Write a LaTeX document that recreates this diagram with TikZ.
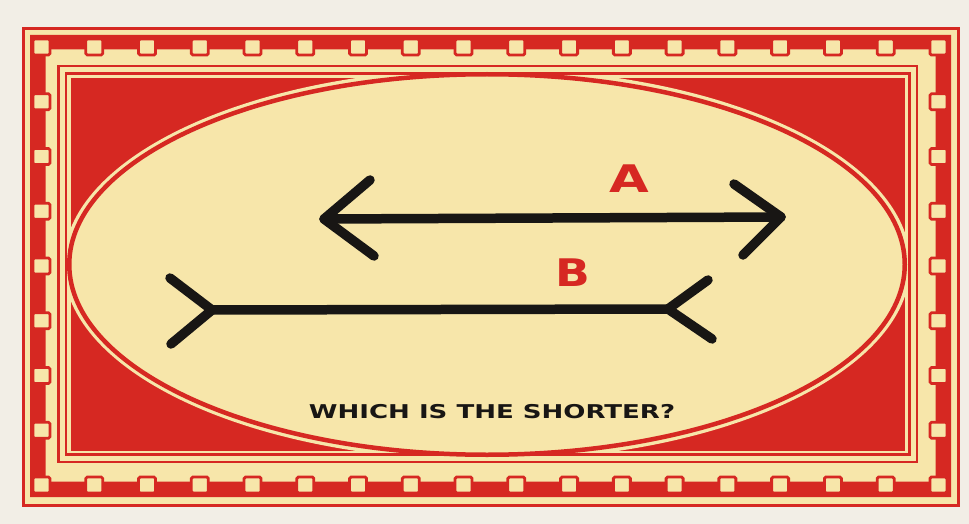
\documentclass[tikz,border=0pt]{standalone}
\usepackage{xcolor}
\usepackage{fontspec}
\newfontfamily\cardfont{DejaVu Sans}
\usetikzlibrary{calc}
\definecolor{paper}{RGB}{242,238,230}
\definecolor{cardred}{RGB}{214,40,34}
\definecolor{cardcream}{RGB}{247,230,170}
\definecolor{ink}{RGB}{24,22,20}

\begin{document}
\begin{tikzpicture}[x=1pt, y=-1pt,
  stud/.style={fill=cardcream, draw=cardred, line width=2.8pt, rounded corners=1.5pt},
  frameline/.style={draw=cardred, line width=2.8pt},
  bar/.style={draw=ink, line width=9.5pt, line cap=round, line join=round},
  every node/.style={inner sep=0pt, font=\cardfont\bfseries}]
  \useasboundingbox[fill=paper] (0,0) rectangle (969,524);
  \path[fill=cardcream, draw=cardred, line width=3pt] (23.5,28.5) rectangle (958.5,505.5);
  \fill[cardred, even odd rule] (30,35) rectangle (951,497) (45.5,49.5) rectangle (935.5,481.5);
  \foreach \i in {0,...,17} {
    \path[stud] ({33+52.76*\i},39) rectangle ++(17,16);
    \path[stud] ({33+52.76*\i},477) rectangle ++(17,16);
  }
  \foreach \j in {1,...,7} {
    \path[stud] (33,{39+54.75*\j}) rectangle ++(17,16);
    \path[stud] (930,{39+54.75*\j}) rectangle ++(17,16);
  }
  \path[frameline] (58.5,66) rectangle (917,462);
  \path[frameline] (66,73.5) rectangle (909.5,454.5);
  \fill[cardred] (70.5,78.5) rectangle (905,450.5);
  \begin{scope}
    \clip (70.5,78.5) rectangle (905,450.5);
    \fill[cardcream] (487,264.5) ellipse [x radius=423.5, y radius=196];
  \end{scope}
  \path[fill=cardcream, draw=cardred, line width=4.5pt] (487,264.5) ellipse [x radius=417.75, y radius=190.25];

  \coordinate (Atail) at (324,219);
  \coordinate (Ahead) at (781,217);
  \coordinate (Bleft) at (212,310);
  \coordinate (Bright) at (668,309);
  \draw[bar] (Atail) -- (Ahead);
  \draw[bar] ($(Atail)+(46,-39)$) -- (Atail) -- ($(Atail)+(50,37)$);
  \draw[bar] ($(Ahead)+(-47,-33)$) -- (Ahead) -- ($(Ahead)+(-38,38)$);
  \draw[bar] (Bleft) -- (Bright);
  \draw[bar] ($(Bleft)+(-42,-32)$) -- (Bleft) -- ($(Bleft)+(-41,34)$);
  \draw[bar] ($(Bright)+(40,-29)$) -- (Bright) -- ($(Bright)+(44,30)$);

  \node[text=cardred, anchor=base, font=\cardfont\bfseries\fontsize{38}{38}\selectfont] (labelA) at (629,192) {\scalebox{1.35}[1]{A}};
  \node[text=cardred, anchor=base, font=\cardfont\bfseries\fontsize{38}{38}\selectfont] (labelB) at (573,286) {\scalebox{1.2}[1]{B}};
  \node[text=ink, anchor=base, font=\cardfont\bfseries\fontsize{19}{19}\selectfont] (question) at (492,418) {\scalebox{1.37}[1]{WHICH IS THE SHORTER?}};
\end{tikzpicture}
\end{document}
